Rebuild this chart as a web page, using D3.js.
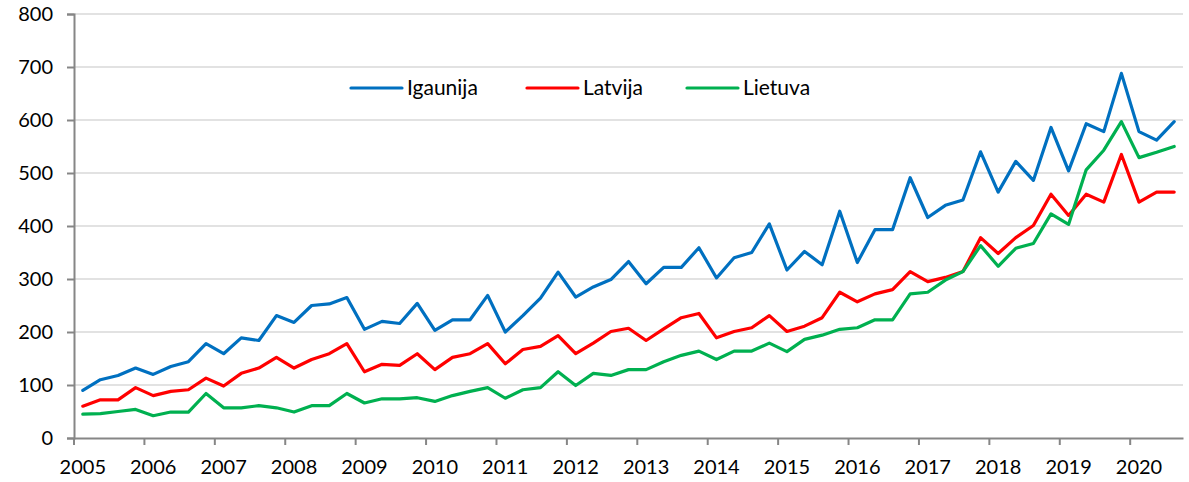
<!DOCTYPE html>
<html>
<head>
<meta charset="utf-8">
<script src="https://cdn.jsdelivr.net/npm/d3@7"></script>
<style>
  html, body { margin: 0; padding: 0; background: #fff; }
  svg { display: block; }
  text { font-family: Lato, "Open Sans", sans-serif; fill: #000; }
</style>
</head>
<body>
<svg id="chart" width="1189" height="482"></svg>
<script>
// Quarterly series, 2005 Q1 – 2020 Q3
const startYear = 2005;
const quarterCount = 63;
const seriesNames = ["Igaunija", "Latvija", "Lietuva"];
const seriesColors = ["#0070C0", "#FF0000", "#00B050"];

const igaunija = [90,110,118,132,120,135,144,178,159,189,184,231,218,250,253,265,205,220,216,254,
  203,223,223,269,200,231,264,313,266,285,299,333,291,322,322,359,302,340,350,404,
  317,352,327,428,331,393,393,491,416,439,449,540,464,522,486,586,504,593,578,688,
  578,562,597];
const latvija = [60,72,72,95,80,88,91,113,98,122,132,152,132,148,159,178,125,139,137,159,
  129,152,159,178,140,167,173,193,159,179,201,207,184,206,227,235,189,201,208,231,
  201,211,227,275,257,272,280,314,295,303,314,378,348,378,401,460,420,460,445,535,
  445,464,464];
const lietuva = [45,46,50,54,42,49,49,84,57,57,61,57,49,61,61,84,66,74,74,76,
  69,80,88,95,75,91,95,125,99,122,118,129,129,144,156,164,148,164,164,179,
  163,186,194,205,208,223,223,272,275,298,314,363,324,358,367,423,403,506,543,597,
  529,539,550];

const yTicks = [0,100,200,300,400,500,600,700,800];
const yearLabels = d3.range(2005, 2021).map(String);

const series = [igaunija, latvija, lietuva];
const quarters = d3.range(quarterCount);

const svg = d3.select("#chart");
const plotLeft = 74, plotRight = 1183, plotTop = 14, plotBottom = 438;

const x = d3.scaleBand().domain(quarters).range([plotLeft, plotRight]).padding(0);
const y = d3.scaleLinear().domain([0, 800]).range([plotBottom, plotTop]);
const cx = i => x(i) + x.bandwidth() / 2;

// horizontal gridlines
svg.append("g")
  .selectAll("line")
  .data(yTicks.filter(v => v > 0))
  .join("line")
  .attr("x1", plotLeft).attr("x2", plotRight)
  .attr("y1", d => y(d)).attr("y2", d => y(d))
  .attr("stroke", "#d9d9d9").attr("stroke-width", 1.5);

// y axis
const yAxis = svg.append("g")
  .attr("transform", `translate(${plotLeft},0)`)
  .call(d3.axisLeft(y).tickValues(yTicks).tickSize(7).tickPadding(14).tickFormat(d3.format("d")));
yAxis.select(".domain").attr("stroke", "#868686").attr("stroke-width", 2);
yAxis.selectAll(".tick line").attr("stroke", "#868686").attr("stroke-width", 2);
yAxis.selectAll("text").style("font-size", "20px").attr("fill", "#000");

// x axis: labels at the first quarter of each year, ticks on year boundaries
const yearStarts = quarters.filter(i => i % 4 === 0);
const xAxis = svg.append("g")
  .attr("transform", `translate(0,${plotBottom})`)
  .call(d3.axisBottom(x).tickValues(yearStarts).tickSize(0).tickPadding(22)
    .tickFormat(i => yearLabels[i / 4]));
xAxis.select(".domain").attr("stroke", "#868686").attr("stroke-width", 2);
xAxis.selectAll("text").style("font-size", "20px").attr("fill", "#000");

svg.append("g")
  .selectAll("line")
  .data(yearStarts)
  .join("line")
  .attr("x1", d => x(d)).attr("x2", d => x(d))
  .attr("y1", plotBottom).attr("y2", plotBottom + 7)
  .attr("stroke", "#868686").attr("stroke-width", 2);

// series lines
const line = d3.line().x((d, i) => cx(i)).y(d => y(d));
svg.append("g")
  .selectAll("path")
  .data(series)
  .join("path")
  .attr("d", d => line(d))
  .attr("fill", "none")
  .attr("stroke", (d, i) => seriesColors[i])
  .attr("stroke-width", 3.2)
  .attr("stroke-linejoin", "round")
  .attr("stroke-linecap", "round");

// legend
const legendX = [351, 527, 687];
const legend = svg.append("g")
  .selectAll("g")
  .data(seriesNames)
  .join("g")
  .attr("transform", (d, i) => `translate(${legendX[i]},88)`);
legend.append("line")
  .attr("x1", 0).attr("x2", 51)
  .attr("stroke", (d, i) => seriesColors[i])
  .attr("stroke-width", 3.2)
  .attr("stroke-linecap", "round");
legend.append("text")
  .attr("x", 56).attr("y", 7)
  .style("font-size", "21px")
  .text(d => d);
</script>
</body>
</html>
